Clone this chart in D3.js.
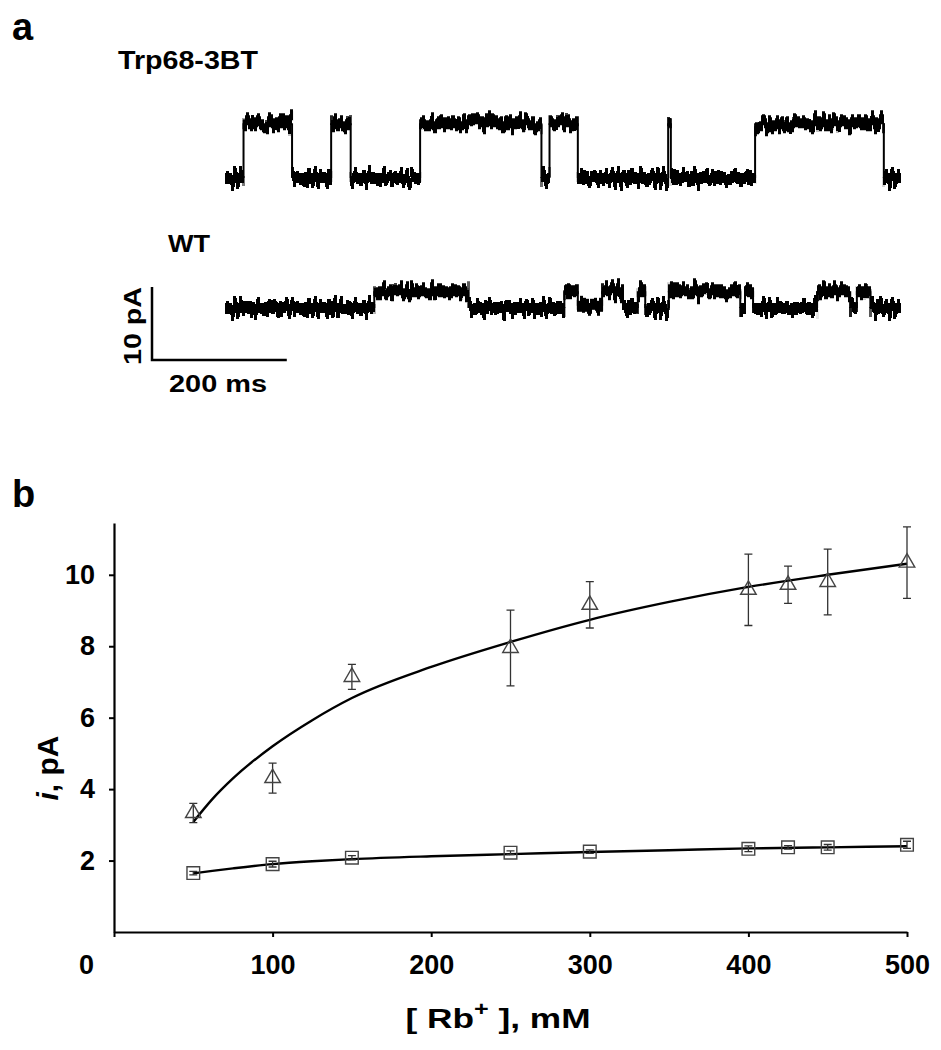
<!DOCTYPE html>
<html>
<head>
<meta charset="utf-8">
<script src="https://cdn.jsdelivr.net/npm/d3@7"></script>
<style>
    body { margin: 0; background: #fff; }
    text { font-family: "Liberation Sans", Arial, sans-serif; font-weight: bold; fill: #000; }
</style>
</head>
<body>
<script>
// panel a : single channel records, time (ms) of each level change and current (pA)
const trpTimes = [0, 26, 98, 156, 185, 288, 468, 480, 522, 656, 660, 785, 976, 1000];
const trpCurrent = [0, 7.5, 0, 7.5, 0, 7.5, 0, 7.5, 0, 7.5, 0, 7.5, 0, 0];
const wtTimes = [0, 220, 360, 502, 522, 558, 589, 611, 622, 657, 763, 770, 782, 877, 926, 936, 956, 1000];
const wtCurrent = [0, 2.3, 0, 2.3, 0.3, 2.3, 0, 2.3, 0, 2.3, 0, 2.3, 0, 2.3, 0, 2.3, 0, 0];

// panel b : unitary current vs [Rb+]
const rbConc = [50, 100, 150, 250, 300, 400, 425, 450, 500];
const trpMean = [3.33, 4.31, 7.14, 7.95, 9.16, 9.58, 9.72, 9.80, 10.34];
const trpErr = [0.27, 0.42, 0.35, 1.06, 0.65, 1.00, 0.52, 0.92, 1.00];
const wtMean = [1.65, 1.90, 2.08, 2.22, 2.25, 2.33, 2.37, 2.37, 2.44];
const wtErr = [0.05, 0.08, 0.06, 0.05, 0.05, 0.08, 0.05, 0.08, 0.10];

// fitted curves
const fitConc = [50, 62, 75, 100, 125, 150, 200, 250, 300, 350, 400, 450, 500];
const trpFit = [3.08, 3.72, 4.3, 5.2, 5.93, 6.55, 7.42, 8.12, 8.74, 9.24, 9.66, 10.0, 10.31];
const wtFit = [1.64, 1.71, 1.78, 1.9, 1.98, 2.04, 2.12, 2.18, 2.24, 2.29, 2.34, 2.37, 2.4];

const xTicks = [0, 100, 200, 300, 400, 500];
const yTicks = [2, 4, 6, 8, 10];

const svg = d3.select("body").append("svg").attr("width", 941).attr("height", 1050);

//noise texture for the recordings (region in the local frame of each trace)
const defs = svg.append("defs");
const flt = defs.append("filter").attr("id", "noise")
    .attr("filterUnits", "userSpaceOnUse")
    .attr("x", 200).attr("y", -100).attr("width", 720).attr("height", 140)
    .attr("color-interpolation-filters", "sRGB");
flt.append("feTurbulence").attr("type", "fractalNoise")
    .attr("baseFrequency", "0.35 0.004").attr("numOctaves", 2).attr("seed", 7).attr("result", "t");
flt.append("feColorMatrix").attr("in", "t").attr("type", "matrix")
    .attr("values", "0 0 0 0 0.5  0 1 0 0 0  0 0 0 0 0  0 0 0 0 1").attr("result", "m");
flt.append("feDisplacementMap").attr("in", "SourceGraphic").attr("in2", "m")
    .attr("scale", 30).attr("xChannelSelector", "R").attr("yChannelSelector", "G").attr("result", "d");
flt.append("feMorphology").attr("in", "d").attr("operator", "dilate").attr("radius", "1 2");

//label helper
const label = (x, y, str, size, len, rot) => {
    const t = svg.append("text")
        .attr("transform", "translate(" + x + "," + y + ")" + (rot ? " rotate(" + rot + ")" : ""))
        .attr("font-size", size)
        .text(str);
    if (len) t.attr("textLength", len).attr("lengthAdjust", "spacingAndGlyphs");
    return t;
};

// ---------- panel a ----------
const tScale = d3.scaleLinear().domain([0, 1000]).range([226, 900]);
const iScale = d3.scaleLinear().domain([0, 10]).range([0, -73]);

const traces = [
    { times: trpTimes, current: trpCurrent, base: 178 },
    { times: wtTimes, current: wtCurrent, base: 308 }
];
traces.forEach(tr => {
    const g = svg.append("g").attr("transform", "translate(0," + tr.base + ")");
    //dwell levels (noisy)
    const levels = tr.times.slice(0, -1).map((t, i) => [t, tr.times[i + 1], tr.current[i]]);
    g.append("g").attr("filter", "url(#noise)")
        .selectAll("line")
        .data(levels)
        .enter()
        .append("line")
        .attr("x1", d => tScale(d[0]))
        .attr("x2", d => tScale(d[1]))
        .attr("y1", d => iScale(d[2]))
        .attr("y2", d => iScale(d[2]))
        .attr("stroke", "#000")
        .attr("stroke-width", 6);
    //transitions
    const steps = tr.times.slice(1, -1).map((t, i) => [t, tr.current[i], tr.current[i + 1]]);
    g.append("g").selectAll("line")
        .data(steps)
        .enter()
        .append("line")
        .attr("x1", d => tScale(d[0]))
        .attr("x2", d => tScale(d[0]))
        .attr("y1", d => iScale(d[1]))
        .attr("y2", d => iScale(d[2]))
        .attr("stroke", "#000")
        .attr("stroke-width", 2);
});

//scale bar 10 pA / 200 ms
const sbX = 152, sbY = 360;
svg.append("path")
    .attr("fill", "none").attr("stroke", "#000").attr("stroke-width", 2.5)
    .attr("d", "M" + sbX + "," + (sbY + iScale(10)) + "V" + sbY + "H" + (sbX + tScale(200) - tScale(0)));

label(12, 40, "a", 38);
label(118, 69, "Trp68-3BT", 25, 140);
label(168, 252, "WT", 24, 42);
label(141, 365, "10 pA", 24, 78, -90);
label(169, 392, "200 ms", 23, 98);

// ---------- panel b ----------
const x = d3.scaleLinear().domain([0, 500]).range([114, 907]);
const y = d3.scaleLinear().domain([0, 11.45]).range([932, 523]);

const xAxis = svg.append("g")
    .attr("transform", "translate(0," + y(0) + ")")
    .call(d3.axisBottom(x).tickValues(xTicks).tickSize(5).tickSizeOuter(0).tickPadding(18));
const yAxis = svg.append("g")
    .attr("transform", "translate(" + x(0) + ",0)")
    .call(d3.axisLeft(y).tickValues(yTicks).tickSize(5).tickSizeOuter(0).tickPadding(14));

[xAxis, yAxis].forEach(a => {
    a.select(".domain").attr("stroke-width", 2.2);
    a.selectAll(".tick line").attr("stroke-width", 2);
    a.selectAll(".tick text")
        .attr("font-size", 27)
        .attr("font-family", "'Liberation Sans', Arial, sans-serif")
        .attr("font-weight", "bold");
});
//the 0 label sits left of the axis origin
xAxis.selectAll(".tick text").filter(d => d === 0).attr("x", -28);

//fitted curves
const fitLine = d3.line().x(d => x(d[0])).y(d => y(d[1])).curve(d3.curveMonotoneX);
[trpFit, wtFit].forEach(f => {
    svg.append("path")
        .datum(fitConc.map((c, i) => [c, f[i]]))
        .attr("fill", "none")
        .attr("stroke", "#000")
        .attr("stroke-width", 2.4)
        .attr("d", fitLine);
});

//error bars and markers
const series = [
    { mean: trpMean, err: trpErr, symbol: d3.symbolTriangle, size: 105 },
    { mean: wtMean, err: wtErr, symbol: d3.symbolSquare, size: 160 }
];
series.forEach(s => {
    const pts = rbConc.map((c, i) => ({ c: c, m: s.mean[i], e: s.err[i] }));
    const eb = svg.append("g").attr("stroke", "#333").attr("stroke-width", 1.3).attr("fill", "none");
    eb.selectAll("path")
        .data(pts)
        .enter()
        .append("path")
        .attr("d", d => {
            const cx = x(d.c), y0 = y(d.m - d.e), y1 = y(d.m + d.e);
            return "M" + cx + "," + y0 + "V" + y1 +
                "M" + (cx - 4) + "," + y0 + "H" + (cx + 4) +
                "M" + (cx - 4) + "," + y1 + "H" + (cx + 4);
        });

    svg.append("g").selectAll("path")
        .data(pts)
        .enter()
        .append("path")
        .attr("transform", d => "translate(" + x(d.c) + "," + y(d.m) + ")")
        .attr("d", d3.symbol().type(s.symbol).size(s.size))
        .attr("fill", "none")
        .attr("stroke", "#444")
        .attr("stroke-width", 1.4);
});

label(12, 507, "b", 38);

//axis titles
const yl = label(58, 768, "", 30, null, -90).attr("text-anchor", "middle");
yl.append("tspan").attr("font-style", "italic").text("i");
yl.append("tspan").text(", pA");

const xl = svg.append("text")
    .attr("transform", "translate(498,1028) scale(1.26,1)")
    .attr("text-anchor", "middle")
    .attr("font-size", 28);
xl.append("tspan").text("[ Rb");
xl.append("tspan").attr("font-size", 20).attr("dy", -12).text("+");
xl.append("tspan").attr("dy", 12).text(" ], mM");
</script>
</body>
</html>
